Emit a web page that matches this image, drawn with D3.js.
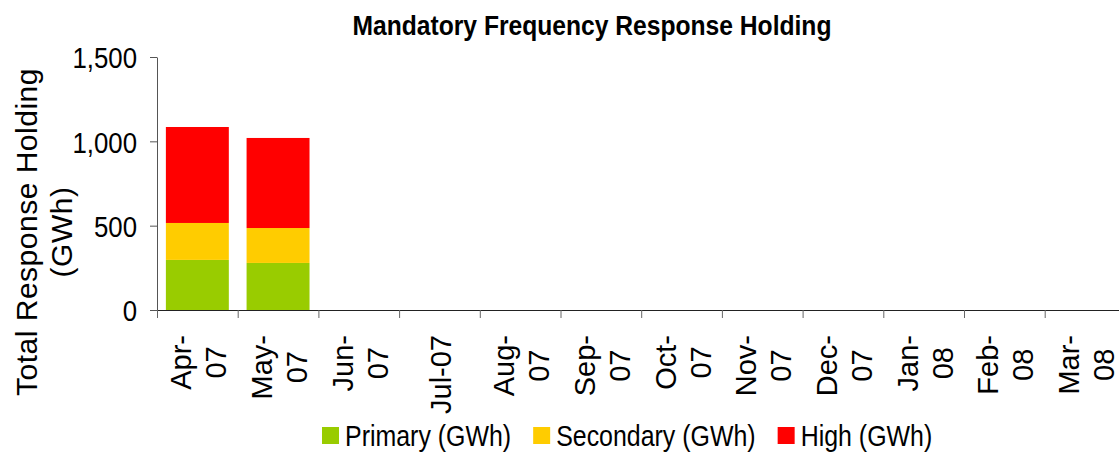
<!DOCTYPE html>
<html>
<head>
<meta charset="utf-8">
<script src="https://cdnjs.cloudflare.com/ajax/libs/d3/7.8.5/d3.min.js"></script>
<style>
    body { margin: 0; background: #fff; }
    svg text { font-family: "Liberation Sans", Arial, sans-serif; fill: #000; }
</style>
</head>
<body>
<div id="chart"></div>
<script>
// data
var months = ["Apr-07", "May-07", "Jun-07", "Jul-07", "Aug-07", "Sep-07",
    "Oct-07", "Nov-07", "Dec-07", "Jan-08", "Feb-08", "Mar-08"];
var monthLabels = [["Apr-", "07"], ["May-", "07"], ["Jun-", "07"], ["Jul-07"], ["Aug-", "07"], ["Sep-", "07"],
    ["Oct-", "07"], ["Nov-", "07"], ["Dec-", "07"], ["Jan-", "08"], ["Feb-", "08"], ["Mar-", "08"]];
var primary = [297, 279, 0, 0, 0, 0, 0, 0, 0, 0, 0, 0];
var secondary = [219, 207, 0, 0, 0, 0, 0, 0, 0, 0, 0, 0];
var high = [569, 534, 0, 0, 0, 0, 0, 0, 0, 0, 0, 0];
var seriesNames = ["Primary (GWh)", "Secondary (GWh)", "High (GWh)"];
var seriesColors = ["#99CC00", "#FFCC00", "#FF0000"];
var yTicks = [0, 500, 1000, 1500];

var width = 1119, height = 452;
var plot = { left: 157, right: 1125.4, top: 57, bottom: 310 };
var squash = 0.86; // the reference's horizontal text is a bit narrow

var svg = d3.select("#chart").append("svg")
    .attr("width", width)
    .attr("height", height);

var x = d3.scaleBand()
    .domain(months)
    .range([plot.left, plot.right])
    .paddingInner(0.22)
    .paddingOuter(0.11);

var y = d3.scaleLinear()
    .domain([0, 1500])
    .range([plot.bottom, plot.top]);

var edges = d3.scaleLinear()
    .domain([0, months.length])
    .range([plot.left, plot.right]);

// stacked bars
var rows = months.map(function(m, i) {
    return { month: m, p: primary[i], s: secondary[i], h: high[i] };
});
var stack = d3.stack().keys(["p", "s", "h"]);
var layers = stack(rows);

svg.append("g")
    .selectAll("g")
    .data(layers)
    .enter().append("g")
    .attr("fill", function(d, i) { return seriesColors[i]; })
    .selectAll("rect")
    .data(function(d) { return d; })
    .enter().append("rect")
    .attr("x", function(d) { return x(d.data.month); })
    .attr("width", x.bandwidth())
    .attr("y", function(d) { return y(d[1]); })
    .attr("height", function(d) { return y(d[0]) - y(d[1]); });

// y axis
var yAxis = svg.append("g")
    .attr("transform", "translate(" + plot.left + ",0)")
    .call(d3.axisLeft(y).tickValues(yTicks).tickSize(7).tickSizeOuter(0)
        .tickFormat(d3.format(",")));
yAxis.select(".domain").attr("stroke", "#555");
yAxis.selectAll(".tick line").attr("stroke", "#555");
yAxis.selectAll(".tick text")
    .attr("x", null)
    .attr("dy", "0.36em")
    .attr("font-size", 30)
    .attr("text-anchor", "end")
    .attr("transform", "translate(-20,0) scale(" + squash + ",1)");

// x axis: ticks sit on the category edges
var xAxis = svg.append("g")
    .attr("transform", "translate(0," + plot.bottom + ")")
    .call(d3.axisBottom(edges).tickValues(d3.range(months.length + 1))
        .tickSize(8).tickSizeOuter(0).tickFormat(""));
xAxis.select(".domain").attr("stroke", "#222");
xAxis.selectAll(".tick line").attr("stroke", "#666");

// rotated month labels, block top-aligned under the axis, lines centred in block
var labelTop = 335;
var labelG = svg.append("g");
monthLabels.forEach(function(lines, i) {
    var cx = x(months[i]) + x.bandwidth() / 2;
    var g = labelG.append("g");
    var texts = lines.map(function(line, j) {
        var off = lines.length == 1 ? 12 : (j == 0 ? -6 : 29);
        return g.append("text")
            .attr("font-size", 29)
            .attr("text-anchor", "middle")
            .attr("data-x", cx + off)
            .text(line);
    });
    var maxLen = d3.max(texts, function(t) { return t.node().getComputedTextLength(); });
    texts.forEach(function(t) {
        t.attr("transform", "translate(" + t.attr("data-x") + "," + (labelTop + maxLen / 2) + ") rotate(-90)")
            .attr("data-x", null);
    });
});

// y axis title
var yTitle = svg.append("g")
    .attr("transform", "translate(0,232)");
yTitle.append("text")
    .attr("transform", "translate(37,0) rotate(-90)")
    .attr("text-anchor", "middle")
    .attr("font-size", 30)
    .attr("letter-spacing", 0.5)
    .text("Total Response Holding");
yTitle.append("text")
    .attr("transform", "translate(72,0) rotate(-90)")
    .attr("text-anchor", "middle")
    .attr("font-size", 30)
    .attr("letter-spacing", 0.5)
    .text("(GWh)");

// chart title
svg.append("text")
    .attr("text-anchor", "middle")
    .attr("font-size", 28)
    .attr("font-weight", "bold")
    .attr("transform", "translate(592,35) scale(0.88,1)")
    .text("Mandatory Frequency Response Holding");

// legend
var legend = svg.append("g");
var lx = 322, ly = 436;
seriesNames.forEach(function(name, i) {
    legend.append("rect")
        .attr("x", lx)
        .attr("y", ly - 9)
        .attr("width", 17)
        .attr("height", 17)
        .attr("fill", seriesColors[i]);
    var t = legend.append("text")
        .attr("font-size", 29)
        .attr("dy", "0.36em")
        .attr("transform", "translate(" + (lx + 23) + "," + ly + ") scale(" + squash + ",1)")
        .text(name);
    lx += 23 + t.node().getComputedTextLength() * squash + 22;
});
</script>
</body>
</html>
